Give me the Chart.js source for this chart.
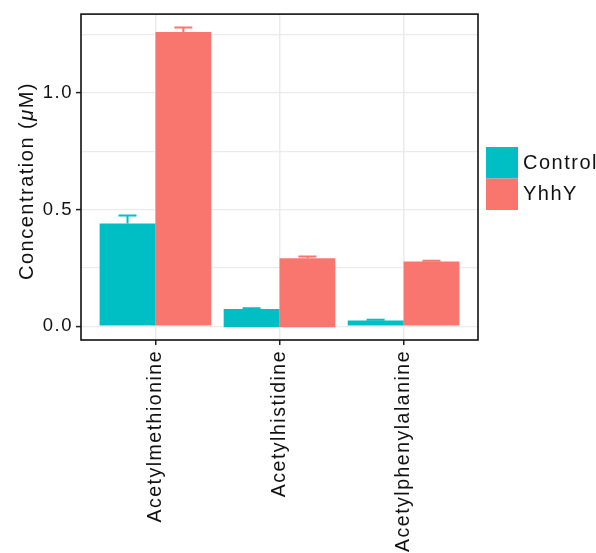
<!DOCTYPE html>
<html>
<head>
<meta charset="utf-8">
<script src="https://cdn.jsdelivr.net/npm/chart.js@4/dist/chart.umd.min.js"></script>
<style>
  html, body { margin: 0; padding: 0; background: #ffffff; }
  #wrap { width: 596px; height: 553px; }
</style>
</head>
<body>
<div id="wrap"><canvas id="c" width="596" height="553"></canvas></div>
<script>
// Metabolite concentrations (µM): bar means and upper error limits
const categories = ['Acetylmethionine', 'Acetylhistidine', 'Acetylphenylalanine'];
const seriesNames = ['Control', 'YhhY'];
const controlMean = [0.440, 0.074, 0.024];
const controlUpper = [0.475, 0.077, 0.027];
const yhhyMean = [1.262, 0.291, 0.277];
const yhhyUpper = [1.281, 0.299, 0.281];
const barBase = [0, -0.005, 0];
const yTicks = [0, 0.25, 0.5, 0.75, 1.0, 1.25];
const yLabelTicks = [0, 0.5, 1.0];

const colors = ['#00BFC4', '#F8766D'];
const means = [controlMean, yhhyMean];
const uppers = [controlUpper, yhhyUpper];
const FONT = '"Liberation Sans", Arial, Helvetica, sans-serif';
const SPACING = '1.5px';

function rows(values) {
  return categories.map((c, i) => ({ x: i + 1, y: [barBase[i], values[i]] }));
}

// Spread glyphs a little, applied before every draw pass
const spacingPlugin = {
  id: 'spacing',
  beforeDraw(chart) { chart.ctx.letterSpacing = SPACING; }
};

// Upper error bars with caps
const errorBars = {
  id: 'errorBars',
  afterDatasetsDraw(chart) {
    const ctx = chart.ctx;
    const y = chart.scales.y;
    chart.data.datasets.forEach((ds, d) => {
      const meta = chart.getDatasetMeta(d);
      meta.data.forEach((bar, i) => {
        const top = y.getPixelForValue(uppers[d][i]);
        const base = y.getPixelForValue(means[d][i]);
        ctx.save();
        ctx.strokeStyle = colors[d];
        ctx.lineWidth = 2;
        ctx.beginPath();
        ctx.moveTo(bar.x, base);
        ctx.lineTo(bar.x, top);
        ctx.moveTo(bar.x - 9, top);
        ctx.lineTo(bar.x + 9, top);
        ctx.stroke();
        ctx.restore();
      });
    });
  }
};

// Panel border, axis title and legend
const decorations = {
  id: 'decorations',
  afterDraw(chart) {
    const ctx = chart.ctx;
    const a = chart.chartArea;
    ctx.save();
    ctx.letterSpacing = SPACING;
    ctx.strokeStyle = '#111111';
    ctx.lineWidth = 1.6;
    ctx.strokeRect(a.left, a.top, a.right - a.left, a.bottom - a.top);

    // y-axis title with italic mu
    ctx.translate(27, 181);
    ctx.rotate(-Math.PI / 2);
    ctx.fillStyle = '#111111';
    ctx.textBaseline = 'middle';
    ctx.textAlign = 'left';
    const parts = [
      ['Concentration (', 'normal'],
      ['\u03BC', 'italic'],
      ['M)', 'normal']
    ];
    let total = 0;
    parts.forEach(p => { ctx.font = p[1] + ' 20px ' + FONT; total += ctx.measureText(p[0]).width; });
    let x = -total / 2;
    parts.forEach(p => {
      ctx.font = p[1] + ' 20px ' + FONT;
      ctx.fillText(p[0], x, 0);
      x += ctx.measureText(p[0]).width;
    });
    ctx.restore();

    // legend
    ctx.save();
    ctx.letterSpacing = SPACING;
    ctx.font = '20px ' + FONT;
    ctx.textBaseline = 'middle';
    seriesNames.forEach((name, k) => {
      const top = 147 + k * 31.5;
      ctx.fillStyle = colors[k];
      ctx.fillRect(486, top, 32, 31.5);
      ctx.fillStyle = '#111111';
      ctx.fillText(name, 523, top + 16);
    });
    ctx.restore();
  }
};

new Chart(document.getElementById('c'), {
  type: 'bar',
  data: {
    datasets: [
      { label: seriesNames[0], data: rows(controlMean), backgroundColor: colors[0], borderWidth: 0 },
      { label: seriesNames[1], data: rows(yhhyMean), backgroundColor: colors[1], borderWidth: 0 }
    ]
  },
  options: {
    responsive: false,
    animation: false,
    devicePixelRatio: 1,
    layout: { padding: { left: 0, top: 11, right: 118, bottom: 0 } },
    datasets: { bar: { categoryPercentage: 0.9, barPercentage: 1.0, grouped: true } },
    plugins: { legend: { display: false }, tooltip: { enabled: false }, title: { display: false } },
    scales: {
      x: {
        type: 'linear',
        min: 0.4,
        max: 3.6,
        offset: false,
        afterBuildTicks(scale) { scale.ticks = categories.map((c, i) => ({ value: i + 1 })); },
        afterFit(scale) { scale.height = 213; },
        border: { display: false },
        grid: { offset: false, color: '#EBEBEB', lineWidth: 1.5, drawTicks: true, tickLength: 5, tickColor: '#222222', tickWidth: 1.5 },
        ticks: {
          autoSkip: false,
          minRotation: 90,
          maxRotation: 90,
          padding: 5,
          color: '#111111',
          font: { family: FONT, size: 19.5 },
          callback: (v) => categories[Math.round(v) - 1] || ''
        }
      },
      y: {
        type: 'linear',
        min: -0.0595,
        max: 1.339,
        afterBuildTicks(scale) { scale.ticks = yTicks.map(v => ({ value: v })); },
        afterFit(scale) { scale.width = 81; },
        border: { display: false },
        grid: {
          color: '#EBEBEB',
          lineWidth: 1.2,
          drawTicks: true,
          tickLength: 5,
          tickWidth: 1.5,
          tickColor: (c) => (c.tick && yLabelTicks.includes(c.tick.value)) ? '#222222' : 'rgba(0,0,0,0)'
        },
        ticks: {
          padding: 3,
          color: '#111111',
          font: { family: FONT, size: 18.5 },
          callback: (v) => yLabelTicks.includes(v) ? v.toFixed(1) : ''
        }
      }
    }
  },
  plugins: [spacingPlugin, errorBars, decorations]
});
</script>
</body>
</html>
